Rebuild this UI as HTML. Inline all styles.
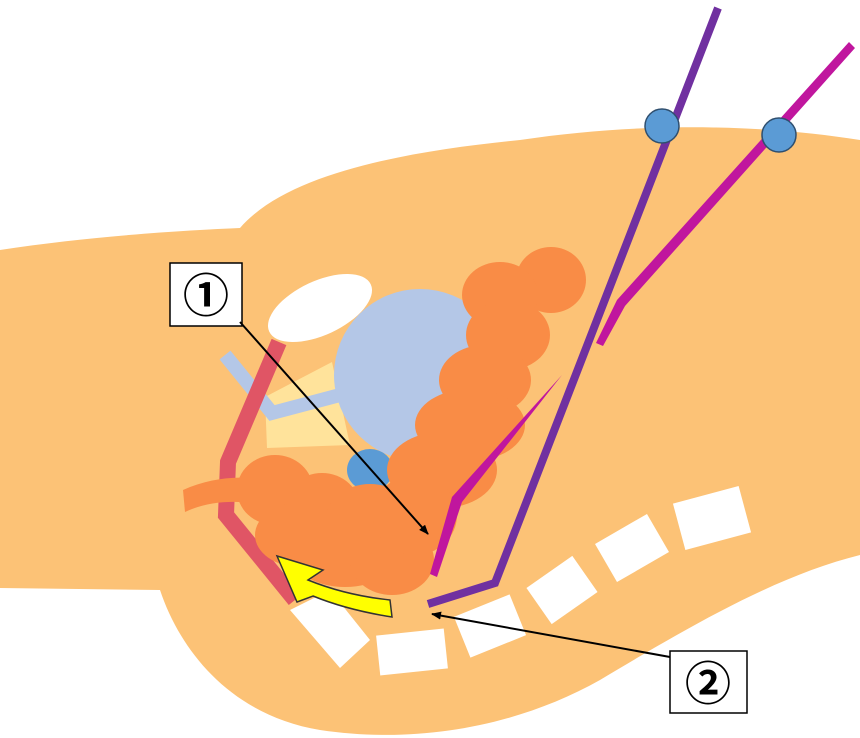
<!DOCTYPE html>
<html><head><meta charset="utf-8"><style>html,body{margin:0;padding:0;background:#fff}svg{display:block}</style></head><body>
<svg width="860" height="738" viewBox="0 0 860 738" xmlns="http://www.w3.org/2000/svg">
<defs><marker id="ah" markerWidth="10" markerHeight="8" refX="9" refY="4" orient="auto" markerUnits="userSpaceOnUse"><path d="M0,0 L10,4 L0,8 Z" fill="#000"/></marker></defs>
<path d="M0,250 C90,236 190,230 240,228 C290,170 420,150 520,140 C640,122 760,124 860,140 L860,555 C780,575 700,620 600,680 C520,725 420,745 320,730 C230,715 180,650 160,590 L0,588 Z" fill="#FCC276"/>
<g fill="#fff">
<rect x="-34" y="-24" width="68" height="48" transform="translate(712,518) rotate(-15)"/>
<rect x="-30" y="-22" width="60" height="44" transform="translate(632,548) rotate(-30)"/>
<rect x="-28" y="-22" width="56" height="44" transform="translate(562,590) rotate(-35)"/>
<rect x="-30" y="-22" width="60" height="44" transform="translate(490,626) rotate(-22)"/>
<rect x="-34" y="-20" width="68" height="40" transform="translate(412,652) rotate(-6)"/>
<path d="M290,610 L330,590 L370,640 L340,668 Z"/>
</g>
<ellipse cx="320" cy="308" rx="56" ry="27" transform="rotate(-25 320 308)" fill="#fff"/>
<path d="M265,397 L332,362 L350,445 L267,448 Z" fill="#FFE39B"/>
<polyline points="225,355 272,413 340,395" fill="none" stroke="#B4C7E7" stroke-width="14"/>
<circle cx="420" cy="375" r="86" fill="#B4C7E7"/>
<ellipse cx="370" cy="470" rx="23" ry="21" fill="#5B9BD5"/>
<polyline points="279,342 228,462 226,515 295,600" fill="none" stroke="#E05565" stroke-width="16"/>
<g fill="#F98C46">
<path d="M183,490 C210,478 240,475 262,480 L262,505 C240,500 210,500 185,512 Z"/>
<ellipse cx="551" cy="280" rx="35" ry="33"/><ellipse cx="500" cy="295" rx="38" ry="33"/>
<ellipse cx="508" cy="335" rx="42" ry="35"/><ellipse cx="485" cy="380" rx="46" ry="35"/>
<ellipse cx="470" cy="425" rx="55" ry="36"/><ellipse cx="442" cy="470" rx="55" ry="38"/>
<ellipse cx="275" cy="490" rx="38" ry="35"/><ellipse cx="322" cy="508" rx="38" ry="35"/>
<ellipse cx="370" cy="522" rx="45" ry="38"/><ellipse cx="345" cy="552" rx="55" ry="35"/>
<ellipse cx="392" cy="560" rx="42" ry="35"/><ellipse cx="415" cy="515" rx="42" ry="40"/>
<ellipse cx="300" cy="535" rx="45" ry="32"/>
</g>
<path d="M392,617 C360,612 335,605 313,596 L297,602 L277,556 L323,570 L308,580 C335,591 362,597 390,600 Z" fill="#FFFF00" stroke="#333" stroke-width="1.5"/>
<polyline points="718,8 495,583 428,604" fill="none" stroke="#7030A0" stroke-width="8"/>
<path d="M849,42 L855,48 L625,306 L603,346 L596,343 L617,300 Z" fill="#C0169E"/>
<path d="M562,375 L462,502 L437,577 L430,574 L452,497 Z" fill="#C0169E"/>
<circle cx="662" cy="126" r="17" fill="#5B9BD5" stroke="#2F4F6F" stroke-width="1.5"/>
<circle cx="779" cy="135" r="17" fill="#5B9BD5" stroke="#2F4F6F" stroke-width="1.5"/>
<rect x="170" y="263" width="72" height="63" fill="#fff" stroke="#000" stroke-width="1.5"/>
<text x="206" y="312" font-family="'Liberation Sans','Noto Sans CJK JP',sans-serif" font-size="46" font-weight="bold" text-anchor="middle">①</text>
<rect x="670" y="651" width="77" height="62" fill="#fff" stroke="#000" stroke-width="1.5"/>
<text x="708" y="700" font-family="'Liberation Sans','Noto Sans CJK JP',sans-serif" font-size="46" font-weight="bold" text-anchor="middle">②</text>
<line x1="240" y1="322" x2="428" y2="534" stroke="#000" stroke-width="2" marker-end="url(#ah)"/>
<line x1="670" y1="657" x2="432" y2="614" stroke="#000" stroke-width="2" marker-end="url(#ah)"/>
</svg>
</body></html>
